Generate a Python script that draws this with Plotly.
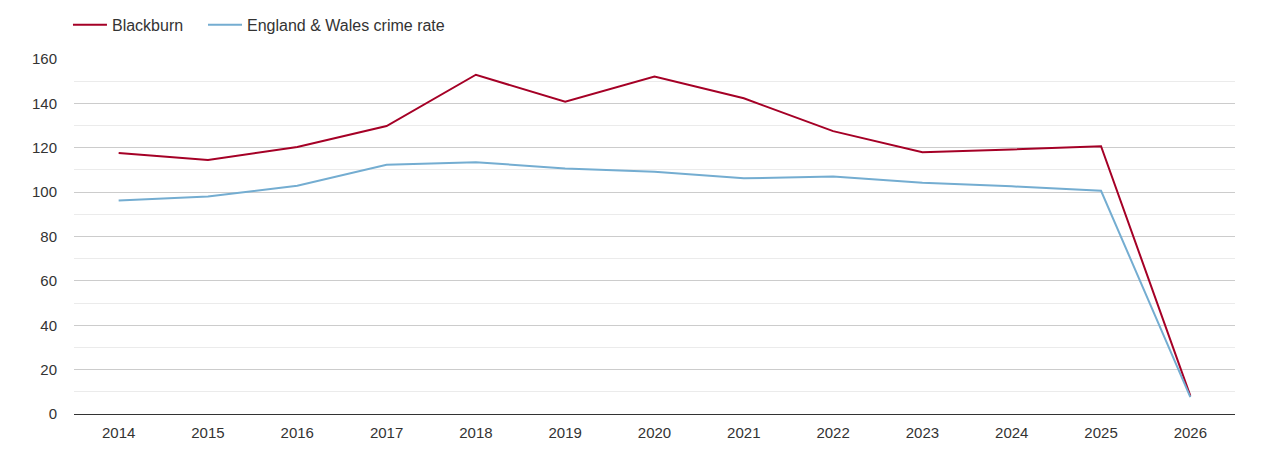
import plotly.graph_objects as go

# --- Data ---
years = ["2014", "2015", "2016", "2017", "2018", "2019", "2020",
         "2021", "2022", "2023", "2024", "2025", "2026"]
blackburn = [117.6, 114.5, 120.3, 129.8, 152.9, 140.7, 152.1,
             142.3, 127.5, 118.0, 119.2, 120.7, 8.2]
england_wales = [96.2, 98.0, 102.9, 112.3, 113.5, 110.7, 109.2,
                 106.2, 107.0, 104.2, 102.6, 100.6, 7.6]

fig = go.Figure()

fig.add_trace(go.Scatter(
    x=years, y=blackburn, mode="lines", name="Blackburn",
    line=dict(color="#a50026", width=2), legend="legend"
))
fig.add_trace(go.Scatter(
    x=years, y=england_wales, mode="lines", name="England & Wales crime rate",
    line=dict(color="#74add1", width=2), legend="legend2"
))

legend_style = dict(
    orientation="h", xanchor="left",
    yref="container", y=0.961, yanchor="middle",
    font=dict(size=16, color="#333333"), itemwidth=34,
)

# page body has an 8px margin, so the figure is sized to sit inside the window
fig.update_layout(
    width=1254, height=434,
    paper_bgcolor="white", plot_bgcolor="white",
    margin=dict(l=66, r=27, t=51, b=28, autoexpand=False),
    font=dict(family="Liberation Sans, Arial, sans-serif", size=15, color="#333333"),
    legend=dict(x=-0.0052, **legend_style),
    legend2=dict(x=0.1111, **legend_style),
    showlegend=True,
    xaxis=dict(
        type="category", range=[-0.5, 12.5], automargin=False,
        showgrid=False, showline=True, linecolor="#333333", linewidth=1,
        ticks="", tickfont=dict(size=15, color="#333333"),
        ticklabelstandoff=5, zeroline=False,
    ),
    yaxis=dict(
        range=[0, 160], dtick=20, showgrid=True, gridcolor="#cccccc",
        gridwidth=1, zeroline=False, showline=False, ticks="", automargin=False,
        tickfont=dict(size=15, color="#333333"), ticklabelstandoff=16,
        minor=dict(dtick=10, showgrid=True, gridcolor="#ebebeb", gridwidth=1),
    ),
)

fig.write_html("out.html")
